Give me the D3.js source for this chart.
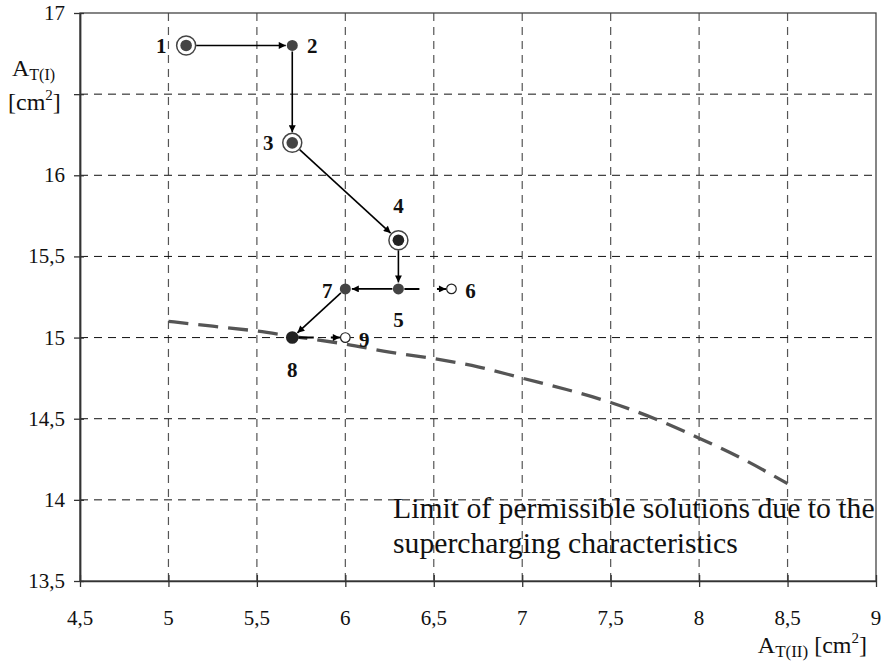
<!DOCTYPE html>
<html>
<head>
<meta charset="utf-8">
<script src="https://cdn.jsdelivr.net/npm/d3@7"></script>
<style>
  html, body { margin: 0; padding: 0; background: #fff; }
  svg { display: block; }
</style>
</head>
<body>
<svg id="chart" width="885" height="666"></svg>
<script>
// ---- data ----
const xTicks = [4.5, 5, 5.5, 6, 6.5, 7, 7.5, 8, 8.5, 9];
const yTicks = [13.5, 14, 14.5, 15, 15.5, 16, 16.5, 17];
const xTickLabels = ["4,5", "5", "5,5", "6", "6,5", "7", "7,5", "8", "8,5", "9"];
const yTickLabels = ["13,5", "14", "14,5", "15", "15,5", "16", "", "17"];

const ptLabels = ["1", "2", "3", "4", "5", "6", "7", "8", "9"];
const ptX = [5.1, 5.7, 5.7, 6.3, 6.3, 6.6, 6.0, 5.7, 6.0];
const ptY = [16.8, 16.8, 16.2, 15.6, 15.3, 15.3, 15.3, 15.0, 15.0];
const ptKind = ["ring", "dot", "ring", "ring", "dot", "open", "dot", "final", "open"];

const moveFrom = ["1", "2", "3", "4", "5", "5", "7", "8"];
const moveTo   = ["2", "3", "4", "5", "7", "6", "8", "9"];
const moveKind = ["step", "step", "step", "step", "step", "probe", "step", "probe"];

const limitX = [5, 5.25, 5.5, 5.75, 6, 6.25, 6.5, 6.75, 7, 7.25, 7.5, 7.75, 8, 8.25, 8.5];
const limitY = [15.1, 15.07, 15.04, 15.0, 14.96, 14.91, 14.87, 14.82, 14.75, 14.68, 14.6, 14.5, 14.38, 14.25, 14.1];

const noteLines = ["Limit of permissible solutions due to the", "supercharging characteristics"];

// ---- layout ----
const svg = d3.select("#chart");
const L = 80, R = 876, T = 13, B = 581;
const x = d3.scaleLinear().domain([4.5, 9]).range([L, R]);
const y = d3.scaleLinear().domain([13.5, 17]).range([B, T]);
const SERIF = "Liberation Serif";

// grid
const grid = svg.append("g");
grid.selectAll("line.v").data(xTicks.slice(1, -1)).join("line")
  .attr("x1", d => x(d)).attr("x2", d => x(d))
  .attr("y1", T).attr("y2", B)
  .attr("stroke", "#555").attr("stroke-width", 1.2).attr("stroke-dasharray", "8,6");
grid.selectAll("line.h").data(yTicks.slice(1, -1)).join("line")
  .attr("x1", L).attr("x2", R)
  .attr("y1", d => y(d)).attr("y2", d => y(d))
  .attr("stroke", "#111").attr("stroke-width", 1).attr("stroke-dasharray", "8,6");

// frame
svg.append("rect").attr("x", L).attr("y", T).attr("width", R - L).attr("height", B - T)
  .attr("fill", "none").attr("stroke", "#444").attr("stroke-width", 1.3);

// axes (ticks + domain from d3 axes; labels drawn from the same scales)
const xAxis = d3.axisBottom(x).tickValues(xTicks).tickFormat("")
  .tickSizeInner(6).tickSizeOuter(0);
const gx = svg.append("g").attr("transform", `translate(0,${B})`).call(xAxis);
gx.select(".domain").attr("stroke", "#333").attr("stroke-width", 1.6);
gx.selectAll(".tick line").attr("y1", -6).attr("stroke", "#333").attr("stroke-width", 1.3);

const yAxis = d3.axisLeft(y).tickValues(yTicks).tickFormat("")
  .tickSizeInner(6).tickSizeOuter(0);
const gy = svg.append("g").attr("transform", `translate(${L},0)`).call(yAxis);
gy.select(".domain").attr("stroke", "#333").attr("stroke-width", 1.8);
gy.selectAll(".tick line").attr("x2", -6).attr("x1", 4).attr("stroke", "#333").attr("stroke-width", 1.3);

svg.append("g").selectAll("text").data(xTicks).join("text")
  .attr("x", d => x(d)).attr("y", B + 44).attr("text-anchor", "middle")
  .attr("font-family", SERIF).attr("font-size", 21).attr("fill", "#111")
  .text((d, i) => xTickLabels[i]);
svg.append("g").selectAll("text").data(yTicks).join("text")
  .attr("x", L - 15).attr("y", d => y(d) + 7).attr("text-anchor", "end")
  .attr("font-family", SERIF).attr("font-size", 21).attr("fill", "#111")
  .text((d, i) => yTickLabels[i]);

// axis titles
const yt = svg.append("g").attr("font-family", SERIF).attr("fill", "#111");
const yt1 = yt.append("text").attr("x", 12).attr("y", 76).attr("font-size", 24);
yt1.append("tspan").text("A");
yt1.append("tspan").attr("font-size", 16).attr("dy", 4).text("T(I)");
const yt2 = yt.append("text").attr("x", 8).attr("y", 110).attr("font-size", 24);
yt2.append("tspan").text("[cm");
yt2.append("tspan").attr("font-size", 15).attr("dy", -10).text("2");
yt2.append("tspan").attr("dy", 10).text("]");

const xt = svg.append("text").attr("x", 867).attr("y", 653).attr("text-anchor", "end")
  .attr("font-family", SERIF).attr("font-size", 24).attr("fill", "#111");
xt.append("tspan").text("A");
xt.append("tspan").attr("font-size", 17).attr("dy", 4).text("T(II)");
xt.append("tspan").attr("dy", -4).text(" [cm");
xt.append("tspan").attr("font-size", 15).attr("dy", -10).text("2");
xt.append("tspan").attr("dy", 10).text("]");

// limit curve
const line = d3.line().x((d, i) => x(limitX[i])).y((d, i) => y(limitY[i])).curve(d3.curveMonotoneX);
svg.append("path").datum(limitX).attr("d", line)
  .attr("fill", "none").attr("stroke", "#555").attr("stroke-width", 3.3)
  .attr("stroke-dasharray", "20,10");

// note text
const note = svg.append("text").attr("font-family", SERIF).attr("font-size", 29.7).attr("fill", "#111");
noteLines.forEach((t, i) => note.append("tspan").attr("x", 393).attr("y", 518 + i * 35).text(t));

// arrow marker
svg.append("defs").append("marker").attr("id", "ah")
  .attr("viewBox", "0 0 10 10").attr("refX", 10).attr("refY", 5)
  .attr("markerWidth", 9).attr("markerHeight", 7).attr("markerUnits", "userSpaceOnUse")
  .attr("orient", "auto")
  .append("path").attr("d", "M0,0 L10,5 L0,10 Z").attr("fill", "#000");

const idx = l => ptLabels.indexOf(l);
const radius = k => k === "ring" ? 10 : (k === "open" ? 5 : (k === "final" ? 6.5 : 6));

// moves
const moves = svg.append("g");
moveFrom.forEach((f, i) => {
  const a = idx(f), b = idx(moveTo[i]);
  const x1 = x(ptX[a]), y1 = y(ptY[a]), x2 = x(ptX[b]), y2 = y(ptY[b]);
  const dx = x2 - x1, dy = y2 - y1, len = Math.hypot(dx, dy);
  const ux = dx / len, uy = dy / len;
  const r1 = radius(ptKind[a]), r2 = radius(ptKind[b]) + 0.5;
  const segLen = len - r1 - r2;
  const ln = moves.append("line")
    .attr("x1", x1 + ux * r1).attr("y1", y1 + uy * r1)
    .attr("x2", x2 - ux * r2).attr("y2", y2 - uy * r2)
    .attr("stroke", "#000").attr("stroke-width", 1.6)
    .attr("marker-end", "url(#ah)");
  if (moveKind[i] === "probe") {
    ln.attr("stroke-width", 2).attr("stroke-dasharray", `15,${Math.max(segLen - 15 - 9, 0)},20`);
  }
});

// points
const pts = svg.append("g");
ptLabels.forEach((l, i) => {
  const cx = x(ptX[i]), cy = y(ptY[i]), k = ptKind[i];
  if (k === "ring") {
    pts.append("circle").attr("cx", cx).attr("cy", cy).attr("r", 9.5)
      .attr("fill", "#fff").attr("stroke", "#444").attr("stroke-width", 1.5);
    pts.append("circle").attr("cx", cx).attr("cy", cy).attr("r", 5.8).attr("fill", i === 3 ? "#222" : "#444");
  } else if (k === "dot") {
    pts.append("circle").attr("cx", cx).attr("cy", cy).attr("r", 5.5).attr("fill", "#444");
  } else if (k === "final") {
    pts.append("circle").attr("cx", cx).attr("cy", cy).attr("r", 6.3).attr("fill", "#222");
  } else {
    pts.append("circle").attr("cx", cx).attr("cy", cy).attr("r", 4.8)
      .attr("fill", "#fff").attr("stroke", "#222").attr("stroke-width", 1.2);
  }
});

// point labels (offsets in pixels relative to each point)
const labelOffset = {
  "1": [-25, 8], "2": [20, 8], "3": [-24, 7], "4": [0, -27], "5": [0, 38],
  "6": [19, 9], "7": [-18, 9], "8": [0, 39], "9": [19, 9]
};
ptLabels.forEach((l, i) => {
  svg.append("text").attr("x", x(ptX[i]) + labelOffset[l][0]).attr("y", y(ptY[i]) + labelOffset[l][1])
    .attr("text-anchor", "middle").attr("font-family", SERIF)
    .attr("font-weight", "bold").attr("font-size", 21).attr("fill", "#111").text(l);
});
</script>
</body>
</html>
